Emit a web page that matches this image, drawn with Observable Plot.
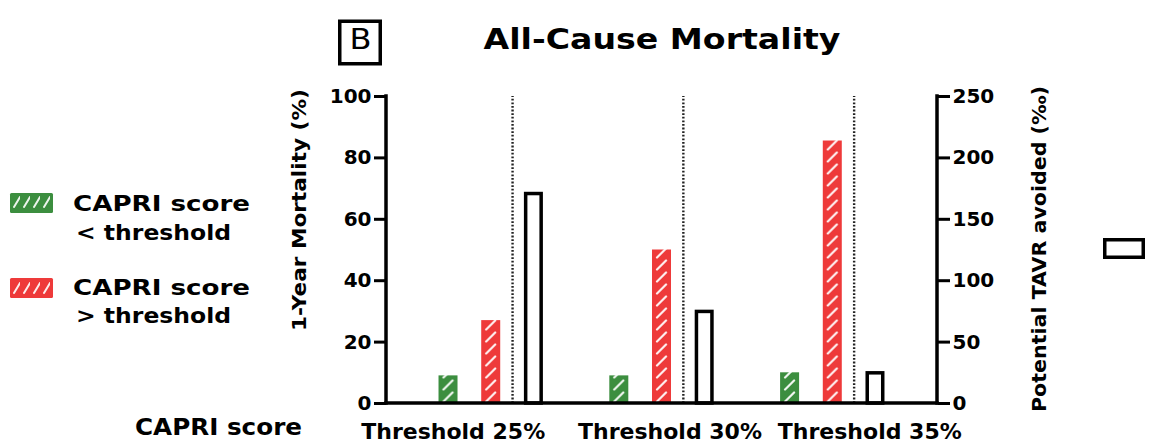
<!DOCTYPE html>
<html><head><meta charset="utf-8">
<script src="https://cdn.jsdelivr.net/npm/d3@7"></script>
<script src="https://cdn.jsdelivr.net/npm/@observablehq/plot@0.6"></script>
<style>
html,body{margin:0;padding:0;background:#fff;}
#wrap{position:relative;width:1153px;height:447px;overflow:hidden;}
#wrap > svg{position:absolute;left:0;top:0;}
</style></head><body><div id="wrap"></div>
<script>
// ---------- data ----------
const thresholds = ["Threshold 25%", "Threshold 30%", "Threshold 35%"];
const mortalityBelow = [9, 9, 10];        // CAPRI score < threshold, 1-year mortality (%)
const mortalityAbove = [27, 50, 85.5];    // CAPRI score > threshold, 1-year mortality (%)
const tavrAvoided = [172, 76, 26];        // potential TAVR avoided (‰), right axis
const leftTicks = [0, 20, 40, 60, 80, 100];
const rightTicks = [0, 50, 100, 150, 200, 250];
const legendLabels = [["CAPRI score", "< threshold"], ["CAPRI score", "> threshold"]];
const titleText = "All-Cause Mortality";
const panelLetter = "B";
const leftTitle = "1-Year Mortality (%)";
const rightTitle = "Potential TAVR avoided (‰)";
const xTitle = "CAPRI score";

// ---------- styling ----------
const GREEN = "#3c8e3f", RED = "#ee3a3a";
const FONT = '"DejaVu Sans", sans-serif';
const W = 1153, H = 447;
const M = {left: 386, right: 216, top: 96, bottom: 44};
const padIn = 0.555, padOut = 1.23;
const labelShift = [-38, 8, 37];

const rows = thresholds.map((t, i) => ({threshold: t, below: mortalityBelow[i], above: mortalityAbove[i], tavr: tavrAvoided[i]}));
const slotDomain = thresholds.flatMap((t, i) => {
  const k = [t + "|below", t + "|above", t + "|tavr"];
  if (i < thresholds.length - 1) k.push("gap" + i);
  return k;
});
const ratio = rightTicks[rightTicks.length - 1] / leftTicks[leftTicks.length - 1];
const step = (W - M.left - M.right) / (slotDomain.length - padIn + 2 * padOut);

function defsMark(index, scales) {
  const x = scales.x, y = scales.y;
  const defs = d3.create("svg:defs");
  [["hatch-below", GREEN], ["hatch-above", RED]].forEach(([id, c]) => {
    const p = defs.append("pattern").attr("id", id).attr("patternUnits", "userSpaceOnUse")
      .attr("x", x(slotDomain[0])).attr("y", y(0)).attr("width", x.step()).attr("height", 12);
    p.append("rect").attr("width", x.step()).attr("height", 12).attr("fill", c);
    p.append("line").attr("x1", 5).attr("y1", 10.5).attr("x2", 14).attr("y2", 1.5)
      .attr("stroke", "#fff").attr("stroke-width", 2.2).attr("stroke-linecap", "round").attr("opacity", 0.92);
  });
  return defs.node();
}
function axisLines(index, scales, values, dims) {
  const y = scales.y;
  const xl = dims.marginLeft, xr = dims.width - dims.marginRight;
  const g = d3.create("svg:g").attr("stroke", "#000").attr("stroke-width", 3.5).attr("stroke-linecap", "square");
  g.append("line").attr("x1", xl).attr("x2", xl).attr("y1", y(0)).attr("y2", y(leftTicks[leftTicks.length - 1]));
  g.append("line").attr("x1", xr).attr("x2", xr).attr("y1", y(0)).attr("y2", y(leftTicks[leftTicks.length - 1]));
  g.append("line").attr("x1", xl).attr("x2", xr).attr("y1", y(0)).attr("y2", y(0));
  return g.node();
}

const chart = Plot.plot({
  width: W, height: H,
  marginLeft: M.left, marginRight: M.right, marginTop: M.top, marginBottom: M.bottom,
  style: {fontFamily: FONT, fontWeight: "bold", fontSize: "19px", background: "transparent", color: "#000", overflow: "visible"},
  x: {type: "band", domain: slotDomain, paddingInner: padIn, paddingOuter: padOut, round: false, axis: null},
  y: {domain: [0, leftTicks[leftTicks.length - 1]], label: null},
  marks: [
    defsMark,
    Plot.barY(rows, {x: d => d.threshold + "|below", y: "below", fill: "url(#hatch-below)"}),
    Plot.barY(rows, {x: d => d.threshold + "|above", y: "above", fill: "url(#hatch-above)"}),
    Plot.barY(rows, {x: d => d.threshold + "|tavr", y: d => d.tavr / ratio, fill: "#fff", stroke: "#000", strokeWidth: 3.5,
      insetLeft: 1.75, insetRight: 1.75, insetTop: 1.75}),
    Plot.ruleX(rows, {x: d => d.threshold + "|tavr", dx: -step / 2, y1: 0, y2: leftTicks[leftTicks.length - 1],
      stroke: "#222", strokeWidth: 2.4, strokeDasharray: "1.8 1.8"}),
    axisLines,
    Plot.axisY({anchor: "left", ticks: leftTicks, tickSize: 12, tickPadding: 3, strokeWidth: 3,
      fontSize: 20, fontWeight: "bold", label: null}),
    Plot.axisY({anchor: "right", ticks: rightTicks.map(t => t / ratio), tickFormat: d => String(Math.round(d * ratio)),
      tickSize: 12, tickPadding: 3, strokeWidth: 3, fontSize: 20, fontWeight: "bold", label: null}),
    ...thresholds.map((t, i) => Plot.text([t], {x: d => d + "|above", y: 0, dy: 20, dx: labelShift[i],
      lineAnchor: "top", textAnchor: "middle", fontSize: 22, fontWeight: "bold", fill: "#000"}))
  ]
});
document.getElementById("wrap").appendChild(chart);

// ---------- overlay: title, panel letter, legend, axis titles ----------
const NS = "http://www.w3.org/2000/svg";
const ov = d3.select("#wrap").append("svg").attr("xmlns", NS).attr("width", W).attr("height", H)
  .style("font-family", FONT).style("font-weight", "bold");
const od = ov.append("defs");
[["lg-below", GREEN], ["lg-above", RED]].forEach(([id, c], i) => {
  const p = od.append("pattern").attr("id", id).attr("patternUnits", "userSpaceOnUse")
    .attr("x", 10).attr("y", 0).attr("width", 10).attr("height", 400);
  p.append("rect").attr("width", 10).attr("height", 400).attr("fill", c);
  [202, 288].forEach(cy => p.append("line").attr("x1", 4).attr("y1", cy + 5).attr("x2", 10).attr("y2", cy - 5)
    .attr("stroke", "#fff").attr("stroke-width", 2).attr("stroke-linecap", "round").attr("opacity", 0.9));
});
// title
ov.append("text").attr("x", 662).attr("y", 49).attr("text-anchor", "middle").attr("font-size", 28)
  .attr("textLength", 357).attr("lengthAdjust", "spacingAndGlyphs").text(titleText);
// panel letter box
ov.append("rect").attr("x", 339.75).attr("y", 21.25).attr("width", 40.5).attr("height", 42.5)
  .attr("fill", "none").attr("stroke", "#000").attr("stroke-width", 3.5);
ov.append("text").attr("x", 360.5).attr("y", 49).attr("text-anchor", "middle").attr("font-size", 28)
  .attr("font-weight", "normal").attr("textLength", 22).attr("lengthAdjust", "spacingAndGlyphs").text(panelLetter);
// legend
const lgY = [193, 278];
const lgBase = [[211, 240], [295, 323]];
legendLabels.forEach((lines, i) => {
  ov.append("rect").attr("x", 10).attr("y", lgY[i]).attr("width", 43).attr("height", 20).attr("rx", 1.5)
    .attr("fill", `url(#${i === 0 ? "lg-below" : "lg-above"})`);
  ov.append("text").attr("x", 73).attr("y", lgBase[i][0]).attr("font-size", 22)
    .attr("textLength", 177).attr("lengthAdjust", "spacingAndGlyphs").text(lines[0]);
  ov.append("text").attr("x", 76).attr("y", lgBase[i][1]).attr("font-size", 22)
    .attr("textLength", 155).attr("lengthAdjust", "spacingAndGlyphs").text(lines[1]);
});
// x title
ov.append("text").attr("x", 135).attr("y", 435).attr("font-size", 23)
  .attr("textLength", 167).attr("lengthAdjust", "spacingAndGlyphs").text(xTitle);
// left axis title
ov.append("text").attr("transform", "translate(306,210) rotate(-90)").attr("text-anchor", "middle").attr("font-size", 20)
  .attr("textLength", 242).attr("lengthAdjust", "spacingAndGlyphs").text(leftTitle);
// right axis title
ov.append("text").attr("transform", "translate(1046,249) rotate(-90)").attr("text-anchor", "middle").attr("font-size", 20)
  .attr("textLength", 326).attr("lengthAdjust", "spacingAndGlyphs").text(rightTitle);
// right-side legend swatch (open bar)
ov.append("rect").attr("x", 1104.75).attr("y", 239.75).attr("width", 38.5).attr("height", 17.5)
  .attr("fill", "none").attr("stroke", "#000").attr("stroke-width", 3.5);
</script></body></html>
